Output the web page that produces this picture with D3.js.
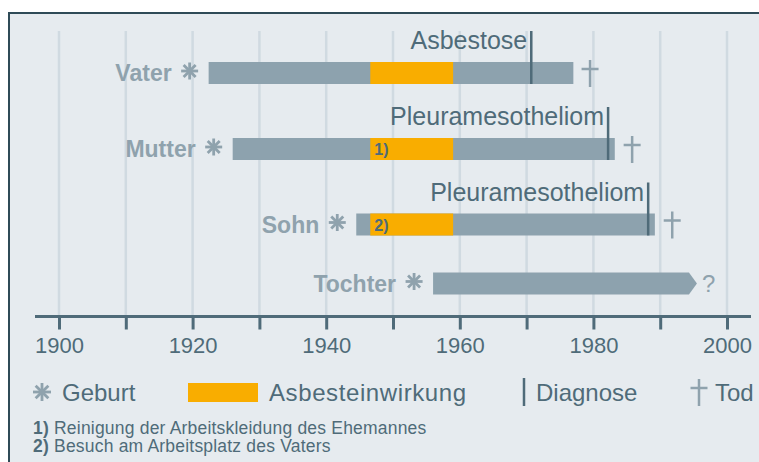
<!DOCTYPE html>
<html>
<head>
<meta charset="utf-8">
<script src="https://cdn.jsdelivr.net/npm/d3@7"></script>
<style>
  html, body { margin: 0; padding: 0; background: #fff; }
  svg { display: block; font-family: "Liberation Sans", Arial, sans-serif; }
</style>
</head>
<body>
<svg id="chart" width="759" height="462"></svg>
<script>
// data
const persons = ["Vater", "Mutter", "Sohn", "Tochter"];
const birth = [1922.4, 1926, 1944.5, 1956];
const lifeEnd = [1977, 1983.2, 1989.2, 1995.5];
const exposureStart = [1946.6, 1946.6, 1946.6, null];
const exposureEnd = [1959, 1959, 1959, null];
const exposureNote = ["", "1)", "2)", ""];
const diagnosis = [1970.7, 1982.2, 1988.2, null];
const diagnosisLabel = ["Asbestose", "Pleuramesotheliom", "Pleuramesotheliom", ""];
const death = [1979.5, 1985.8, 1991.8, null];
const stillAlive = [false, false, false, true];
const tickYears = d3.range(1900, 2001, 10);
const tickLabels = [1900, 1920, 1940, 1960, 1980, 2000];
const footnotes = [
  ["1)", " Reinigung der Arbeitskleidung des Ehemannes"],
  ["2)", " Besuch am Arbeitsplatz des Vaters"]
];

const rows = persons.map((p, i) => ({
  name: p,
  birth: birth[i],
  end: lifeEnd[i],
  expStart: exposureStart[i],
  expEnd: exposureEnd[i],
  note: exposureNote[i],
  diag: diagnosis[i],
  diagLabel: diagnosisLabel[i],
  death: death[i],
  alive: stillAlive[i]
}));

const svg = d3.select("#chart");

const barGrey = "#8da2ae";
const labelGrey = "#8fa2ad";
const dark = "#4f6b79";
const orange = "#f9ad00";

const x = d3.scaleLinear().domain([1900, 2000]).range([59, 727]);
const y = d3.scaleOrdinal().domain(persons).range([73, 149, 224.5, 283.5]);
const barH = 22;
const axisY = 316.5;

// frame
svg.append("rect")
  .attr("x", 9).attr("y", 13)
  .attr("width", 800).attr("height", 500)
  .attr("fill", "#e6ebef")
  .attr("stroke", "#2f4b57")
  .attr("stroke-width", 2);

// grid
svg.append("g").attr("class", "grid")
  .selectAll("line")
  .data(tickYears)
  .join("line")
  .attr("x1", d => x(d)).attr("x2", d => x(d))
  .attr("y1", 31).attr("y2", axisY)
  .attr("stroke", "#d0dae1")
  .attr("stroke-width", 2.5);

// axis
const axis = d3.axisBottom(x)
  .tickValues(tickYears)
  .tickSize(13)
  .tickPadding(8)
  .tickFormat(d => tickLabels.includes(d) ? d : "");

const ax = svg.append("g")
  .attr("transform", `translate(0,${axisY})`)
  .call(axis);
ax.select(".domain").remove();
ax.selectAll(".tick line").attr("stroke", dark).attr("stroke-width", 3);
ax.selectAll(".tick text")
  .attr("fill", dark)
  .attr("font-size", 22)
  .attr("font-family", "Liberation Sans, Arial, sans-serif");
ax.append("line")
  .attr("x1", 35).attr("x2", 751)
  .attr("stroke", dark).attr("stroke-width", 3);

function asterisk(g, cx, cy, r, color, width) {
  d3.range(4).forEach(k => {
    const a = k * Math.PI / 4;
    g.append("line")
      .attr("x1", cx - r * Math.cos(a)).attr("y1", cy - r * Math.sin(a))
      .attr("x2", cx + r * Math.cos(a)).attr("y2", cy + r * Math.sin(a))
      .attr("stroke", color).attr("stroke-width", width);
  });
}

function cross(g, cx, cy, color) {
  g.append("line")
    .attr("x1", cx).attr("x2", cx)
    .attr("y1", cy - 13).attr("y2", cy + 14)
    .attr("stroke", color).attr("stroke-width", 2.5);
  g.append("line")
    .attr("x1", cx - 8.5).attr("x2", cx + 8.5)
    .attr("y1", cy - 4).attr("y2", cy - 4)
    .attr("stroke", color).attr("stroke-width", 2.5);
}

const rowG = svg.append("g").attr("class", "rows")
  .selectAll("g.row")
  .data(rows)
  .join("g")
  .attr("class", "row");

rowG.each(function (d) {
  const g = d3.select(this);
  const cy = y(d.name);
  const x0 = x(d.birth);
  const x1 = x(d.end);

  // life bar
  if (d.alive) {
    g.append("path")
      .attr("d", `M${x0},${cy - barH / 2}H${x1 - 8}L${x1},${cy}L${x1 - 8},${cy + barH / 2}H${x0}Z`)
      .attr("fill", barGrey);
    g.append("text")
      .attr("x", x1 + 5).attr("y", cy + 8)
      .attr("fill", labelGrey)
      .attr("font-size", 24)
      .text("?");
  } else {
    g.append("rect")
      .attr("x", x0).attr("y", cy - barH / 2)
      .attr("width", x1 - x0).attr("height", barH)
      .attr("fill", barGrey);
  }

  // exposure
  if (d.expStart != null) {
    g.append("rect")
      .attr("x", x(d.expStart)).attr("y", cy - barH / 2)
      .attr("width", x(d.expEnd) - x(d.expStart)).attr("height", barH)
      .attr("fill", orange);
    if (d.note) {
      g.append("text")
        .attr("x", x(d.expStart) + 4).attr("y", cy + 6)
        .attr("fill", dark)
        .attr("font-size", 16)
        .attr("font-weight", "bold")
        .text(d.note);
    }
  }

  // birth
  asterisk(g, x0 - 19, cy - 2, 8.5, labelGrey, 2.8);
  g.append("text")
    .attr("x", x0 - 37).attr("y", cy + 8)
    .attr("text-anchor", "end")
    .attr("fill", labelGrey)
    .attr("font-size", 23)
    .attr("font-weight", "bold")
    .text(d.name);

  // diagnosis
  if (d.diag != null) {
    g.append("line")
      .attr("x1", x(d.diag)).attr("x2", x(d.diag))
      .attr("y1", cy - 42).attr("y2", cy + barH / 2)
      .attr("stroke", dark).attr("stroke-width", 2.5);
    g.append("text")
      .attr("x", x(d.diag) - 4).attr("y", cy - 24)
      .attr("text-anchor", "end")
      .attr("fill", dark)
      .attr("font-size", 25)
      .text(d.diagLabel);
  }

  // death
  if (d.death != null) cross(g, x(d.death), cy, labelGrey);
});

// legend
const legY = 392;
const leg = svg.append("g").attr("class", "legend");
asterisk(leg, 42, legY, 9, labelGrey, 2.8);
leg.append("text").attr("x", 62).attr("y", legY + 9)
  .attr("fill", dark).attr("font-size", 24).text("Geburt");
leg.append("rect").attr("x", 188).attr("y", legY - 9)
  .attr("width", 70).attr("height", 19).attr("fill", orange);
leg.append("text").attr("x", 269).attr("y", legY + 9)
  .attr("fill", dark).attr("font-size", 24)
  .attr("letter-spacing", 0.6).text("Asbesteinwirkung");
leg.append("line").attr("x1", 524).attr("x2", 524)
  .attr("y1", legY - 14).attr("y2", legY + 14)
  .attr("stroke", dark).attr("stroke-width", 2.5);
leg.append("text").attr("x", 536).attr("y", legY + 9)
  .attr("fill", dark).attr("font-size", 24).text("Diagnose");
cross(leg, 699, legY, labelGrey);
leg.append("text").attr("x", 715).attr("y", legY + 9)
  .attr("fill", dark).attr("font-size", 24).text("Tod");

// footnotes
svg.append("g").attr("class", "footnotes")
  .selectAll("text")
  .data(footnotes)
  .join("text")
  .attr("x", 33)
  .attr("y", (d, i) => 433.5 + i * 18.5)
  .attr("fill", dark)
  .attr("font-size", 17.5)
  .attr("letter-spacing", 0.2)
  .each(function (d) {
    const t = d3.select(this);
    t.append("tspan").attr("font-weight", "bold").text(d[0]);
    t.append("tspan").text(d[1]);
  });
</script>
</body>
</html>
